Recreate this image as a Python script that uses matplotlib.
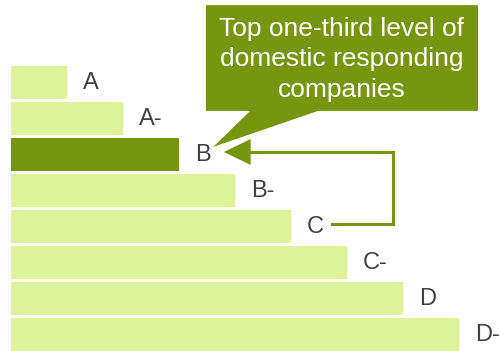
import numpy as np
import matplotlib.pyplot as plt
from matplotlib.patches import Polygon

plt.rcParams['font.family'] = ['Liberation Sans', 'DejaVu Sans']

grades = ["A", "A-", "B", "B-", "C", "C-", "D", "D-"]
levels = [1, 2, 3, 4, 5, 6, 7, 8]
highlight = "B"
callout_text = "Top one-third level of\ndomestic responding\ncompanies"

light = "#dff39a"
dark = "#77960f"
ink = "#404040"

fig = plt.figure(figsize=(4.99, 3.51), dpi=100)
ax = fig.add_axes([0, 0, 1, 1])
ax.set_xlim(-11 / 56, 488 / 56)
ax.set_ylim(268.5 / 36, -82.5 / 36)
ax.axis("off")

y = np.arange(len(grades))
colors = [dark if g == highlight else light for g in grades]
ax.barh(y, levels, height=33 / 36, left=0, color=colors, edgecolor="none")

pad = 16 / 56
for yi, g, v in zip(y, grades, levels):
    ax.text(v + pad, yi + 0.02, g, ha="left", va="center", fontsize=17, color=ink)

# arrow from C back up to B
ib = grades.index("B")
ic = grades.index("C")
vb = levels[ib]
vc = levels[ic]
x_turn = vc + 1.82
tip_x = vb + 0.80
ax.plot([vc + 0.73, x_turn, x_turn, tip_x + 0.45],
        [ic - 0.07, ic - 0.07, ib - 0.07, ib - 0.07],
        color=dark, lw=2.2, solid_joinstyle="miter")
ax.add_patch(Polygon([[tip_x, ib - 0.07], [tip_x + 0.48, ib - 0.43],
                      [tip_x + 0.48, ib + 0.29]],
                     closed=True, color=dark, lw=0))

# speech bubble pointing at B
bx0, bx1 = 3.48, 8.34
by0, by1 = -2.15, 0.79
bubble = [[bx0, by0], [bx1, by0], [bx1, by1], [5.48, by1],
          [vb + 0.61, ib - 0.21], [4.27, by1], [bx0, by1]]
ax.add_patch(Polygon(bubble, closed=True, color=dark, lw=0))
ax.text((bx0 + bx1) / 2, (by0 + by1) / 2 + 0.04, callout_text,
        ha="center", va="center", fontsize=19, color="white",
        linespacing=1.32)

fig.savefig("out.png", dpi=100)
